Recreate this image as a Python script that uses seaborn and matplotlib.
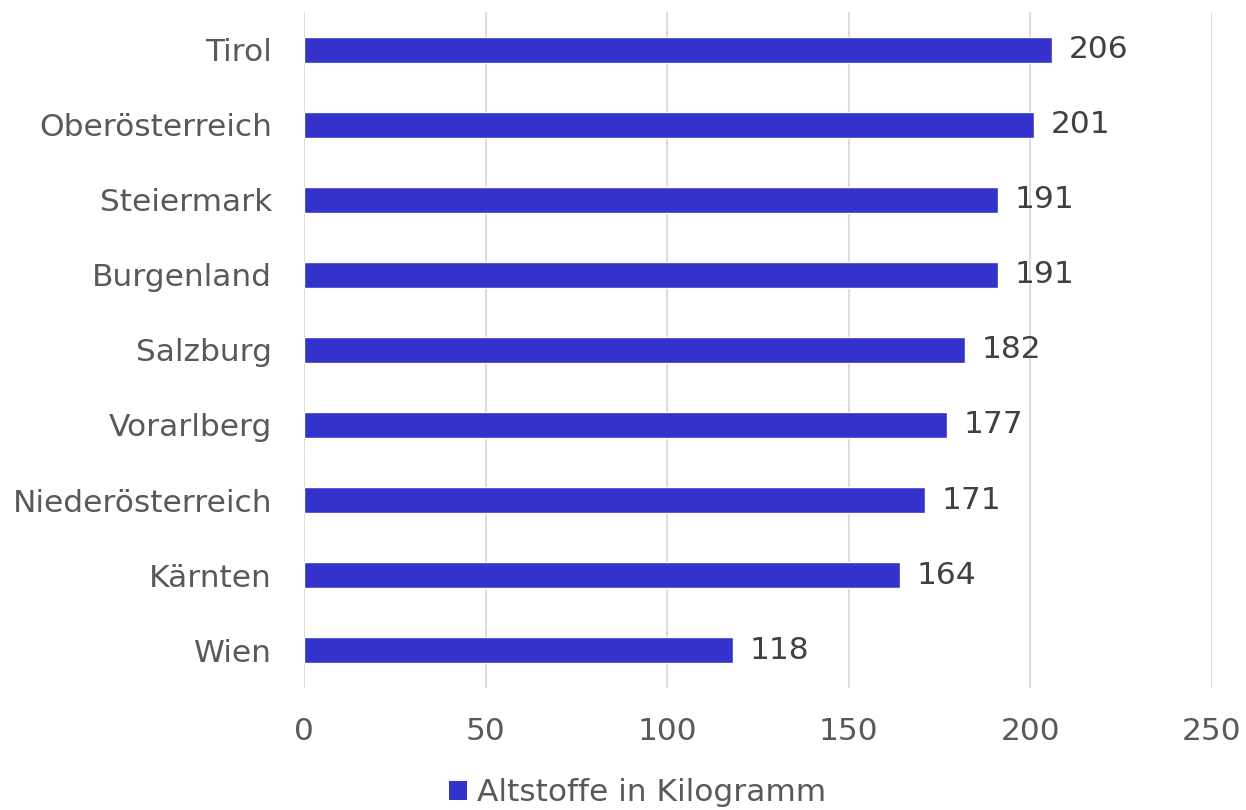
import matplotlib
matplotlib.use("Agg")
import matplotlib.pyplot as plt
import seaborn as sns
import pandas as pd
from matplotlib.patches import Patch

# Data
regions = ["Tirol", "Oberösterreich", "Steiermark", "Burgenland", "Salzburg",
           "Vorarlberg", "Niederösterreich", "Kärnten", "Wien"]
values = [206, 201, 191, 191, 182, 177, 171, 164, 118]
x_ticks = [0, 50, 100, 150, 200, 250]
series_name = "Altstoffe in Kilogramm"

BAR_COLOR = "#3333CC"
TEXT_COLOR = "#595959"
LABEL_COLOR = "#404040"
GRID_COLOR = "#D9D9D9"
FS = 22.5

df = pd.DataFrame({"region": regions, "value": values})

sns.set_theme(style="white")
plt.rcParams["font.family"] = ["DejaVu Sans"]

fig = plt.figure(figsize=(12.46, 8.10), dpi=100)
ax = fig.add_axes([0.244, 0.151, 0.7287, 0.834])

sns.barplot(data=df, x="value", y="region", color=BAR_COLOR, width=0.35,
            saturation=1, ax=ax, zorder=3)

# value labels next to the bars
for i, v in enumerate(values):
    ax.text(v + 4.6, i, str(v), va="center", ha="left",
            fontsize=FS, color=LABEL_COLOR)

ax.set_xlim(0, 250)
ax.set_ylim(8.5, -0.5)
ax.set_xticks(x_ticks)
ax.set_xticklabels([str(t) for t in x_ticks])
ax.xaxis.grid(True, color=GRID_COLOR, linewidth=1.3, zorder=0)
ax.yaxis.grid(False)
for s in ax.spines.values():
    s.set_visible(False)
ax.tick_params(axis="both", length=0, labelsize=FS, labelcolor=TEXT_COLOR)
ax.tick_params(axis="x", pad=21)
ax.tick_params(axis="y", pad=23)
ax.set_xlabel("")
ax.set_ylabel("")

handles = [Patch(facecolor=BAR_COLOR, edgecolor="none", label=series_name)]
fig.legend(handles=handles, loc="center", bbox_to_anchor=(0.5117, 0.021),
           frameon=False, fontsize=FS, labelcolor=TEXT_COLOR,
           handlelength=0.58, handleheight=0.58, handletextpad=0.32,
           borderpad=0, borderaxespad=0)

fig.savefig("out.png", dpi=100)
